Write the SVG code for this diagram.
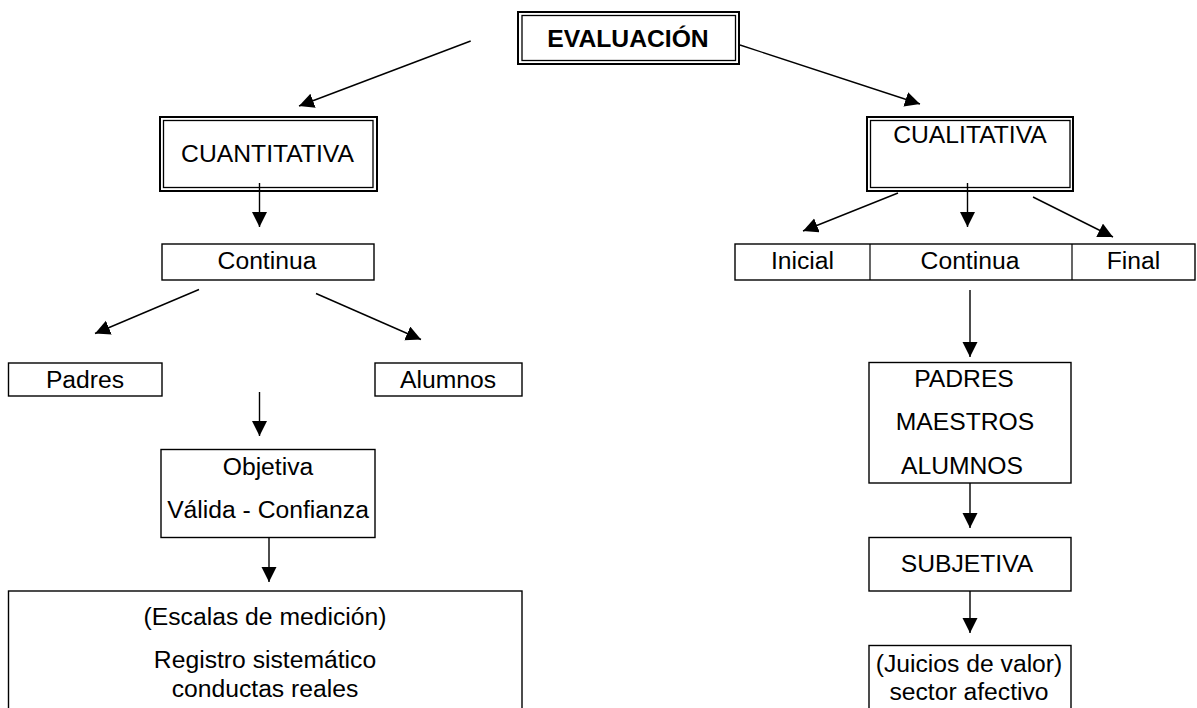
<svg xmlns="http://www.w3.org/2000/svg" width="1197" height="708" viewBox="0 0 1197 708">
<style>
.b{fill:#fff;stroke:#000;stroke-width:1.4}
.o{fill:#fff;stroke:#000;stroke-width:2}
.i{fill:none;stroke:#000;stroke-width:1.3}
.l{fill:none;stroke:#000;stroke-width:1.4}
.d{stroke:#000;stroke-width:1.2}
text{font-family:"Liberation Sans",Arial,sans-serif;font-size:24.7px;fill:#000;text-anchor:middle}
.bold{font-weight:bold}
</style>
<defs>
<marker id="ah" markerUnits="userSpaceOnUse" markerWidth="17" markerHeight="16" refX="15" refY="7.5" orient="auto">
<path d="M0,0 L15,7.5 L0,15 z" fill="#000"/>
</marker>
</defs>
<rect width="1197" height="708" fill="#fff"/>
<g id="evaluacion">
<rect class="o" x="518" y="12" width="221" height="52"/>
<rect class="i" x="522" y="15.5" width="213.5" height="45"/>
<text class="bold" x="628" y="47">EVALUACIÓN</text>
</g>
<g id="cuantitativa">
<rect class="o" x="160" y="117" width="217" height="74"/>
<rect class="i" x="163.5" y="120.5" width="209.5" height="67"/>
<text x="267.5" y="162">CUANTITATIVA</text>
</g>
<g id="cualitativa">
<rect class="o" x="867" y="117" width="206" height="74"/>
<rect class="i" x="870.5" y="120.5" width="199.5" height="67"/>
<text x="970" y="143">CUALITATIVA</text>
</g>
<g id="continua-left">
<rect class="b" x="162" y="244" width="212" height="36"/>
<text x="267" y="269">Continua</text>
</g>
<g id="tipos-cualitativa">
<rect class="b" x="735" y="244" width="460" height="36"/>
<line class="d" x1="870" y1="244" x2="870" y2="280"/>
<line class="d" x1="1072" y1="244" x2="1072" y2="280"/>
<text x="802.5" y="269">Inicial</text>
<text x="970" y="269">Continua</text>
<text x="1133.5" y="269">Final</text>
</g>
<g id="padres">
<rect class="b" x="8.5" y="363" width="153.5" height="33"/>
<text x="85" y="387.5">Padres</text>
</g>
<g id="alumnos">
<rect class="b" x="375" y="363" width="147" height="33"/>
<text x="448" y="387.5">Alumnos</text>
</g>
<g id="objetiva">
<rect class="b" x="161" y="449.5" width="214" height="88"/>
<text x="268" y="474.5">Objetiva</text>
<text x="268" y="517.5">Válida - Confianza</text>
</g>
<g id="escalas">
<rect class="b" x="8.5" y="591" width="513.5" height="130"/>
<text x="265" y="625">(Escalas de medición)</text>
<text x="265" y="668">Registro sistemático</text>
<text x="265" y="697">conductas reales</text>
</g>
<g id="actores">
<rect class="b" x="869" y="362.5" width="202" height="120.5"/>
<text x="964" y="387">PADRES</text>
<text x="965" y="430">MAESTROS</text>
<text x="962" y="473.5">ALUMNOS</text>
</g>
<g id="subjetiva">
<rect class="b" x="869" y="537.5" width="202" height="53.5"/>
<text x="967" y="572">SUBJETIVA</text>
</g>
<g id="juicios">
<rect class="b" x="869" y="645.5" width="202" height="80"/>
<text x="969" y="672">(Juicios de valor)</text>
<text x="969" y="700">sector afectivo</text>
</g>
<g id="connectors">
<line class="l" x1="470.7" y1="41" x2="299" y2="106" marker-end="url(#ah)"/>
<line class="l" x1="740" y1="45" x2="920" y2="104" marker-end="url(#ah)"/>
<line class="l" x1="259.5" y1="183" x2="259.5" y2="227" marker-end="url(#ah)"/>
<line class="l" x1="199" y1="289.5" x2="95" y2="333.5" marker-end="url(#ah)"/>
<line class="l" x1="316" y1="293.5" x2="421" y2="339.5" marker-end="url(#ah)"/>
<line class="l" x1="259.5" y1="392" x2="259.5" y2="436" marker-end="url(#ah)"/>
<line class="l" x1="269" y1="537.5" x2="269" y2="582" marker-end="url(#ah)"/>
<line class="l" x1="898" y1="193" x2="803" y2="231" marker-end="url(#ah)"/>
<line class="l" x1="967.5" y1="183" x2="967.5" y2="227" marker-end="url(#ah)"/>
<line class="l" x1="1033" y1="197" x2="1113" y2="237" marker-end="url(#ah)"/>
<line class="l" x1="970" y1="290" x2="970" y2="357" marker-end="url(#ah)"/>
<line class="l" x1="970" y1="483" x2="970" y2="528" marker-end="url(#ah)"/>
<line class="l" x1="970" y1="591" x2="970" y2="633" marker-end="url(#ah)"/>
</g>
</svg>
